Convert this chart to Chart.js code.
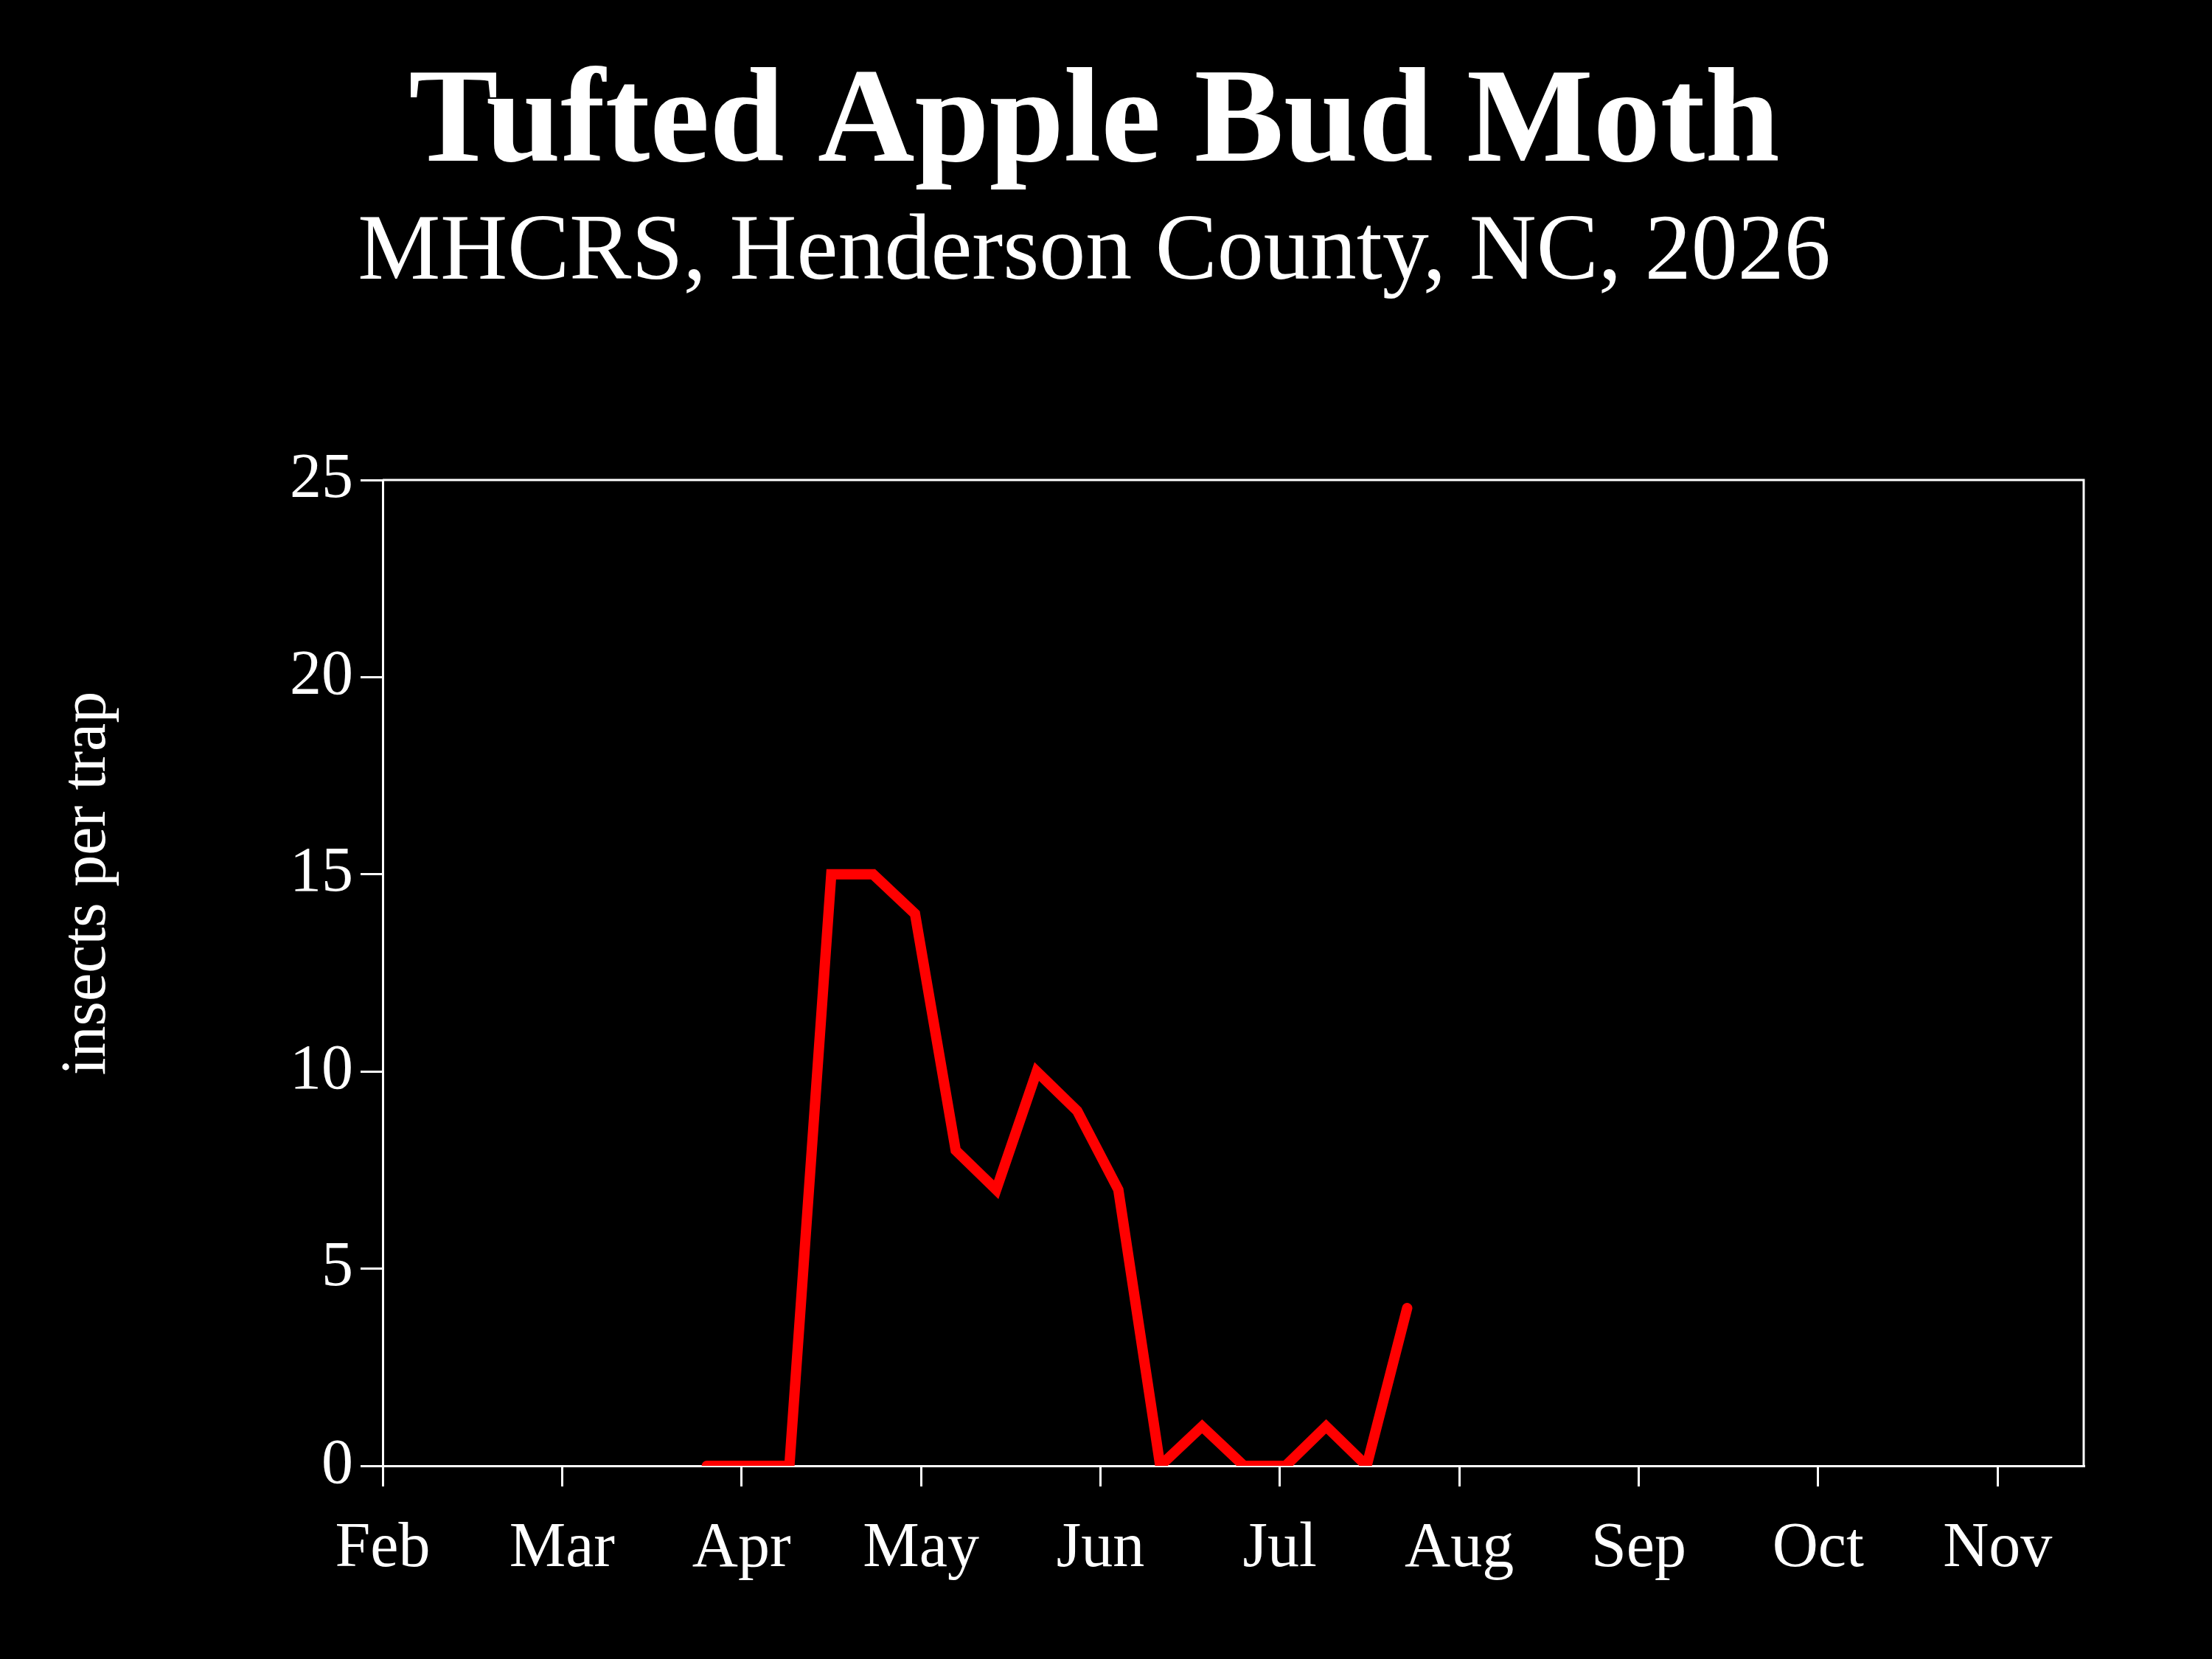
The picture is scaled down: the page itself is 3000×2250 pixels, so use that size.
<!DOCTYPE html>
<html>
<head>
<meta charset="utf-8">
<title>Tufted Apple Bud Moth</title>
<script src="https://cdn.jsdelivr.net/npm/chart.js@4.4.1/dist/chart.umd.min.js"></script>
<style>
  html, body { margin: 0; padding: 0; background: #000; }
  #wrap { width: 3000px; height: 2250px; }
</style>
</head>
<body>
<div id="wrap"><canvas id="chart" width="3000" height="2250"></canvas></div>
<script>
// weekly trap counts
const trapDates = [
  "2026-03-26", "2026-04-02", "2026-04-09", "2026-04-16", "2026-04-23", "2026-04-30",
  "2026-05-07", "2026-05-14", "2026-05-21", "2026-05-28", "2026-06-04", "2026-06-11",
  "2026-06-18", "2026-06-25", "2026-07-02", "2026-07-09", "2026-07-16", "2026-07-23"
];
const mothCounts = [0, 0, 0, 15, 15, 14, 8, 7, 10, 9, 7, 0, 1, 0, 0, 1, 0, 4];
const monthLabels = ["Feb", "Mar", "Apr", "May", "Jun", "Jul", "Aug", "Sep", "Oct", "Nov"];
const yTicks = [0, 5, 10, 15, 20, 25];

const serif = "'Liberation Serif', 'DejaVu Serif', serif";

// months are evenly spaced on the axis, Feb = 0
function monthPos(s) {
  const [y, m, d] = s.split("-").map(Number);
  const days = new Date(y, m, 0).getDate();
  return (m - 2) + (d - 1) / days;
}

const points = trapDates.map((d, i) => ({ x: monthPos(d), y: mothCounts[i] }));

const frame = {
  id: 'frame',
  beforeDraw(chart) {
    const c = chart.ctx;
    c.save();
    c.fillStyle = '#000';
    c.fillRect(0, 0, chart.width, chart.height);
    c.restore();
  },
  afterDatasetsDraw(chart) {
    const a = chart.chartArea;
    const c = chart.ctx;
    c.save();
    c.strokeStyle = '#fff';
    c.lineWidth = 3;
    c.beginPath();
    c.moveTo(a.left, a.top);
    c.lineTo(a.right, a.top);
    c.lineTo(a.right, a.bottom);
    c.stroke();
    // y axis title
    c.translate(119, 1198);
    c.rotate(-Math.PI / 2);
    c.fillStyle = '#fff';
    c.font = "86px " + serif;
    c.textAlign = 'center';
    c.textBaseline = 'middle';
    c.fillText("insects per trap", 0, 0);
    c.restore();
  }
};

new Chart(document.getElementById('chart'), {
  type: 'line',
  data: {
    datasets: [{
      data: points,
      borderColor: '#ff0000',
      borderWidth: 14,
      borderJoinStyle: 'miter',
      borderCapStyle: 'round',
      pointRadius: 0,
      tension: 0
    }]
  },
  options: {
    responsive: false,
    animation: false,
    layout: { padding: { left: 0, right: 32, bottom: 0 } },
    plugins: {
      legend: { display: false },
      tooltip: { enabled: false },
      title: {
        display: true,
        text: "Tufted Apple Bud Moth",
        color: '#fff',
        font: { family: serif, size: 182, weight: 'bold', lineHeight: 1 },
        padding: { top: 80, bottom: 0 }
      },
      subtitle: {
        display: true,
        text: "MHCRS, Henderson County, NC, 2026",
        color: '#fff',
        font: { family: serif, size: 126, lineHeight: 1 },
        padding: { top: 20, bottom: 243 }
      }
    },
    scales: {
      x: {
        type: 'linear',
        min: 0,
        max: 9.48,
        afterBuildTicks(axis) {
          axis.ticks = monthLabels.map((_, i) => ({ value: i }));
        },
        afterFit(axis) { axis.height = 262; },
        ticks: {
          color: '#fff',
          font: { family: serif, size: 86 },
          padding: 34,
          maxRotation: 0,
          autoSkip: false,
          callback: v => monthLabels[v]
        },
        grid: { drawOnChartArea: false, color: '#fff', lineWidth: 3, tickLength: 28 },
        border: { color: '#fff', width: 3 }
      },
      y: {
        min: 0,
        max: 25,
        afterBuildTicks(axis) {
          axis.ticks = yTicks.map(v => ({ value: v }));
        },
        afterFit(axis) { axis.width = 519; },
        ticks: {
          color: '#fff',
          font: { family: serif, size: 86 },
          padding: 10
        },
        grid: { drawOnChartArea: false, color: '#fff', lineWidth: 3, tickLength: 30 },
        border: { color: '#fff', width: 3 }
      },
      // empty right-hand strip, keeps the titles centred on the page
      yRight: {
        position: 'right',
        display: true,
        min: 0,
        max: 25,
        afterFit(axis) { axis.width = 142; },
        ticks: { display: false },
        grid: { display: false },
        border: { display: false }
      }
    }
  },
  plugins: [frame]
});
</script>
</body>
</html>
